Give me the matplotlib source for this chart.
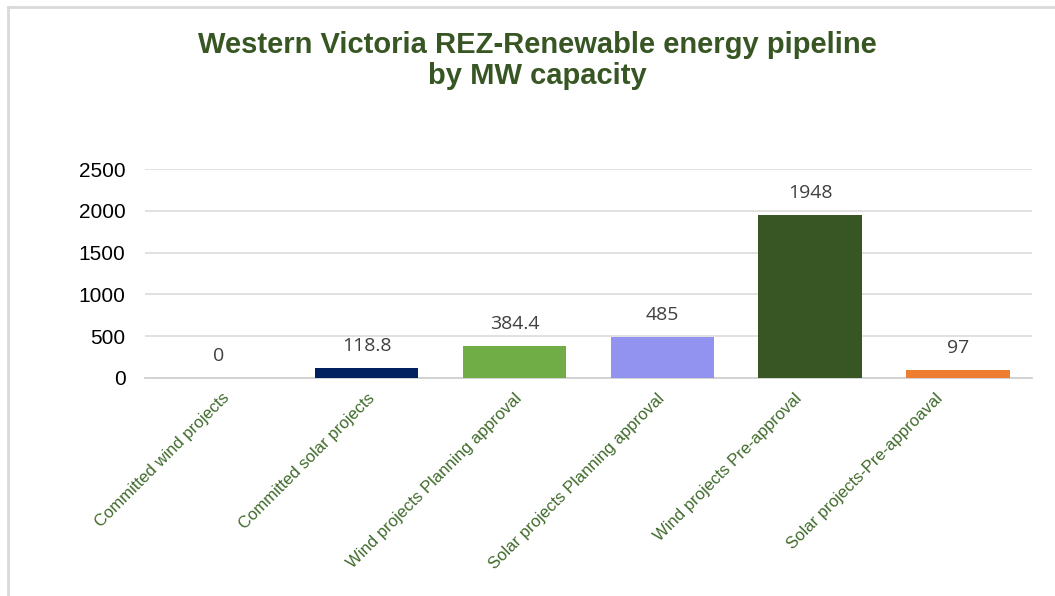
import numpy as np
import matplotlib.pyplot as plt
import matplotlib.transforms as mtransforms
from matplotlib.lines import Line2D

categories = ['Committed wind projects', 'Committed solar projects',
              'Wind projects Planning approval', 'Solar projects Planning approval',
              'Wind projects Pre-approval', 'Solar projects-Pre-approaval']
values = [0, 118.8, 384.4, 485, 1948, 97]
value_labels = ['0', '118.8', '384.4', '485', '1948', '97']
colors = ['#002060', '#002060', '#70AD47', '#9292F0', '#375623', '#ED7D31']
yticks = [0, 500, 1000, 1500, 2000, 2500]

green = '#375623'

fig = plt.figure(figsize=(10.55, 5.96), dpi=100)
ax = fig.add_axes([0.1374, 0.3658, 0.8406, 0.3506])

x = np.arange(len(categories))
ax.bar(x, values, width=0.7, color=colors, zorder=3)

for xi, v, lab in zip(x, values, value_labels):
    ax.annotate(lab, (xi, v), xytext=(0, 16), textcoords='offset points',
                ha='center', va='center', fontsize=14, color='#404040',
                family='Open Sans')

ax.set_xlim(-0.5, len(categories) - 0.5)
ax.set_ylim(0, 2500)
ax.set_yticks(yticks)
ax.set_yticklabels([str(t) for t in yticks], fontsize=15,
                   family='Liberation Sans', color='black')
ax.set_xticks(x)
ax.set_xticklabels(categories, rotation=45, ha='right', rotation_mode='anchor',
                   fontsize=12, family='Liberation Sans', color='#3F6A2A')
ax.tick_params(axis='y', length=0, pad=14)
ax.tick_params(axis='x', length=0, pad=9)

# excel places the rotated labels a little left of the bar centres towards the right
shifts = [3, 0, 0, -5, -16, -23]
for lbl, dx in zip(ax.get_xticklabels(), shifts):
    lbl.set_transform(lbl.get_transform() +
                      mtransforms.ScaledTranslation(dx / 100, 0, fig.dpi_scale_trans))

ax.grid(axis='y', color='#d9d9d9', lw=1.1, zorder=0)
for s in ['top', 'right', 'left']:
    ax.spines[s].set_visible(False)
ax.spines['bottom'].set_color('#d0d0d0')
ax.spines['bottom'].set_linewidth(1.3)

fig.text(0.509, 0.899, 'Western Victoria REZ-Renewable energy pipeline\nby MW capacity',
         ha='center', va='center', fontsize=21, fontweight='bold',
         family='Liberation Sans', color=green, linespacing=1.12)

# outer chart frame (left and top edges)
fig.add_artist(Line2D([0.0076, 0.0076], [0, 0.989], color='#d9d9d9', lw=2,
                      transform=fig.transFigure))
fig.add_artist(Line2D([0.0076, 1.0], [0.989, 0.989], color='#d9d9d9', lw=2,
                      transform=fig.transFigure))

fig.savefig('out.png', dpi=100)
